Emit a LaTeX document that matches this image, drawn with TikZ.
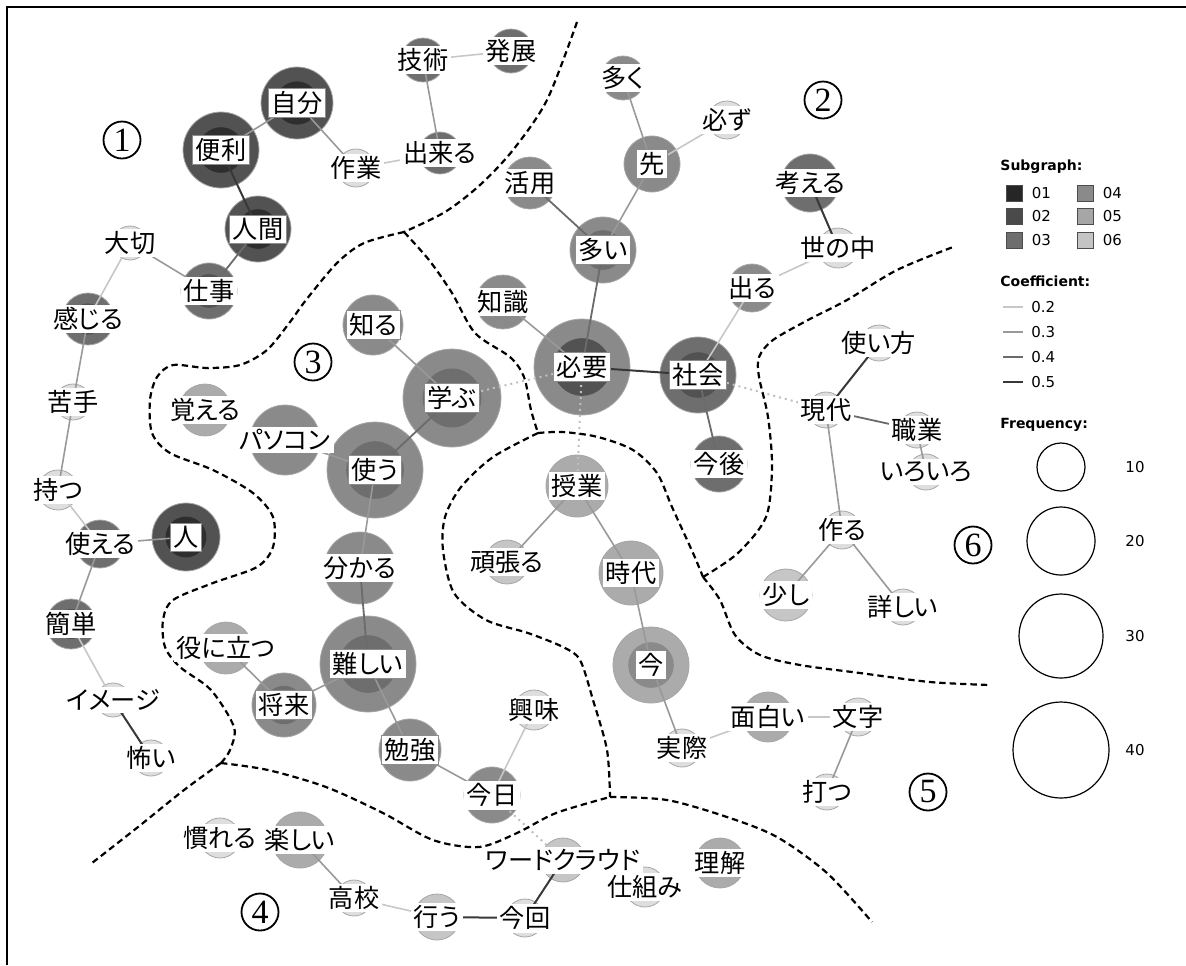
\documentclass[tikz,border=0pt]{standalone}
\usepackage{fontspec}
\setmainfont{Liberation Serif}
\newfontfamily\jp[RawFeature=+palt]{Noto Sans CJK JP}
\newfontfamily\lgd{DejaVu Sans}
\usepackage{tikz}
\usetikzlibrary{positioning}
\definecolor{c1}{HTML}{2E2E2E}
\definecolor{c2}{HTML}{525252}
\definecolor{c3}{HTML}{6E6E6E}
\definecolor{c4}{HTML}{8A8A8A}
\definecolor{c5}{HTML}{ABABAB}
\definecolor{c6}{HTML}{C6C6C6}
\definecolor{lt}{HTML}{DEDEDE}
\definecolor{sg1}{HTML}{262626}
\definecolor{sg2}{HTML}{4A4A4A}
\definecolor{sg3}{HTML}{6E6E6E}
\definecolor{sg4}{HTML}{8A8A8A}
\definecolor{sg5}{HTML}{A6A6A6}
\definecolor{sg6}{HTML}{C4C4C4}
\pgfdeclarelayer{bg}
\pgfdeclarelayer{fg}
\pgfsetlayers{bg,main,fg}
\tikzstyle{ring} = [circle, inner sep=0pt, draw=black!35, line width=0.4pt]
\tikzstyle{lbl} = [fill=white, inner xsep=1.6pt, inner ysep=1.4pt, font=\jp\fontsize{12.6}{12.6}\selectfont]
\tikzstyle{lblb} = [lbl, draw=black!45, line width=0.4pt]
\tikzstyle{e2} = [draw=black!22, line width=0.8pt]
\tikzstyle{e3} = [draw=black!40, line width=0.8pt]
\tikzstyle{e4} = [draw=black!58, line width=0.9pt]
\tikzstyle{e5} = [draw=black!78, line width=1pt]
\tikzstyle{edot} = [draw=black!25, dotted, line width=1pt]
\tikzstyle{bound} = [black, line width=1.1pt, dash pattern=on 3.2pt off 2pt]
\tikzstyle{grp} = [circle, draw, line width=0.9pt, inner sep=0pt, minimum size=18.5pt, font=\fontsize{17}{17}\selectfont]
\tikzstyle{lhead} = [anchor=west, inner sep=0pt, font=\lgd\bfseries\fontsize{7}{7}\selectfont]
\tikzstyle{ltxt} = [anchor=west, inner sep=0pt, font=\lgd\fontsize{7.5}{7.5}\selectfont]
\tikzstyle{sqr} = [rectangle, draw=black!70, line width=0.4pt, minimum size=8pt, inner sep=0pt]
\tikzstyle{freq} = [circle, draw, line width=0.6pt, inner sep=0pt]

\begin{document}
\begin{tikzpicture}[x=0.5pt, y=-0.5pt]
\useasboundingbox (0,0) rectangle (1186,965);
\draw[line width=1pt] (7,965) -- (7,7) -- (1186,7);

% Place nodes
\foreach \id/\x/\y/\r/\oc/\ic/\lb/\t in {
    jibun/297/103/36/c2/c1/lblb/自分, benri/221/150/38/c2/c1/lblb/便利,
    ningen/258/229/33/c2/c1/lblb/人間, shigoto/209/291/28/c3/c2/lbl/仕事,
    taisetsu/130/243/17/lt/lt/lbl/大切, kanjiru/88/319/26/c3/c2/lbl/感じる,
    nigate/73/402/18/lt/lt/lbl/苦手, motsu/58/490/20/lt/lt/lbl/持つ,
    tsukaeru/100/544/24/c3/c3/lbl/使える, hito/186/537/34/c2/c1/lblb/人,
    kantan/71/624/25/c3/c2/lbl/簡単, image/113/700/17/lt/lt/lbl/イメージ,
    kowai/151/758/18/lt/lt/lbl/怖い, sagyo/356/168/19/lt/lt/lbl/作業,
    dekiru/440/153/21/c3/c3/lbl/出来る, gijutsu/423/60/22/c3/c3/lbl/技術,
    hatten/511/51/22/c3/c3/lbl/発展,
    ooku/623/78/22/c4/c4/lbl/多く, kanarazu/727/120/19/lt/lt/lbl/必ず,
    saki/652/164/28/c4/c4/lblb/先, katsuyo/530/183/26/c4/c4/lbl/活用,
    ooi/603/250/33/c4/c3/lblb/多い, chishiki/503/302/27/c4/c4/lbl/知識,
    hitsuyo/582/367/48/c4/c2/lblb/必要, shakai/698/375/38/c3/c2/lblb/社会,
    kongo/719/464/28/c3/c3/lbl/今後, deru/752/288/24/c4/c4/lbl/出る,
    yononaka/838/248/20/lt/lt/lbl/世の中, kangaeru/810/183/29/c3/c3/lbl/考える,
    shiru/373/325/30/c4/c4/lblb/知る, manabu/452/398/49/c4/c3/lblb/学ぶ,
    oboeru/205/410/26/c5/c5/lbl/覚える, pasokon/285/440/35/c4/c4/lbl/パソコン,
    tsukau/375/470/48/c4/c3/lblb/使う, wakaru/360/568/36/c4/c4/lbl/分かる,
    muzukashii/368/664/48/c4/c3/lblb/難しい, yakunitatsu/226/648/26/c5/c5/lbl/役に立つ,
    shorai/284/705/32/c4/c3/lblb/将来, benkyo/410/750/31/c4/c4/lblb/勉強,
    kyo/492/795/28/c4/c4/lbl/今日, kyomi/534/710/20/lt/lt/lbl/興味,
    jugyo/577/486/31/c5/c5/lbl/授業, ganbaru/507/562/22/c6/c6/lbl/頑張る,
    jidai/631/573/32/c5/c5/lbl/時代, ima/651/665/38/c5/c4/lblb/今,
    jissai/682/748/19/lt/lt/lbl/実際, omoshiroi/768/717/25/c5/c5/lbl/面白い,
    moji/858/717/19/lt/lt/lbl/文字, utsu/827/792/18/lt/lt/lbl/打つ,
    tsukaikata/879/343/18/lt/lt/lbl/使い方, gendai/826/410/18/lt/lt/lbl/現代,
    shokugyo/917/430/18/lt/lt/lbl/職業, iroiro/926/472/18/lt/lt/lbl/いろいろ,
    tsukuru/842/530/19/lt/lt/lbl/作る, sukoshi/786/595/26/c6/c6/lbl/少し,
    kuwashii/903/607/18/lt/lt/lbl/詳しい,
    nareru/220/838/20/lt/lt/lbl/慣れる, tanoshii/300/840/28/c5/c5/lbl/楽しい,
    koko/354/898/18/lt/lt/lbl/高校, okonau/437/917/23/c6/c6/lbl/行う,
    konkai/525/918/19/lt/lt/lbl/今回, wordcloud/563/860/22/c6/c6/lbl/ワードクラウド,
    shikumi/645/887/20/lt/lt/lbl/仕組み, rikai/720/863/25/c5/c5/lbl/理解} {
  \begin{pgfonlayer}{bg}
    \node (\id) [ring, minimum size=\r pt, fill=\oc] at (\x,\y) {};
    \fill[\ic] (\id.center) circle[radius={0.3*\r*1pt}];
  \end{pgfonlayer}
  \begin{pgfonlayer}{fg}
    \node (\id-t) [\lb] at (\x,\y) {\t};
  \end{pgfonlayer}
}

% Draw edges
\foreach \a/\b in {sagyo/dekiru, gijutsu/hatten, taisetsu/kanjiru, motsu/tsukaeru, kantan/image,
    saki/kanarazu, shakai/deru, deru/yononaka, kyo/kyomi, jissai/omoshiroi, omoshiroi/moji, koko/okonau}
  \draw[e2] (\a.center) -- (\b.center);
\foreach \a/\b in {jibun/benri, jibun/sagyo, dekiru/gijutsu, shigoto/taisetsu, kanjiru/nigate,
    nigate/motsu, tsukaeru/hito, tsukaeru/kantan, ooku/saki, saki/ooi, chishiki/hitsuyo,
    shiru/manabu, pasokon/tsukau, tsukau/wakaru, muzukashii/shorai, shorai/yakunitatsu,
    muzukashii/benkyo, benkyo/kyo, jugyo/ganbaru, jugyo/jidai, jidai/ima, ima/jissai,
    gendai/tsukuru, tsukuru/sukoshi, tsukuru/kuwashii, moji/utsu, tanoshii/koko, shokugyo/iroiro}
  \draw[e3] (\a.center) -- (\b.center);
\foreach \a/\b in {ningen/shigoto, katsuyo/ooi, ooi/hitsuyo, shakai/kongo, manabu/tsukau,
    wakaru/muzukashii, gendai/shokugyo}
  \draw[e4] (\a.center) -- (\b.center);
\foreach \a/\b in {benri/ningen, hitsuyo/shakai, yononaka/kangaeru, image/kowai,
    tsukaikata/gendai, okonau/konkai, konkai/wordcloud}
  \draw[e5] (\a.center) -- (\b.center);
\foreach \a/\b in {manabu/hitsuyo, hitsuyo/jugyo, shakai/gendai, kyo/wordcloud}
  \draw[edot] (\a.center) -- (\b.center);

% Subgraph borders
\draw[bound] plot[smooth] coordinates {(577,22) (547,100) (513,150) (480,185) (445,212) (404,232)};
\draw[bound] plot[smooth] coordinates {(404,232) (364,243) (337,263) (306,300) (290,322) (267,350)
    (240,365) (207,368) (173,365) (157,377) (150,400) (152,433) (170,453) (213,470) (253,493)
    (273,517) (273,547) (257,567) (213,583) (173,600) (163,620) (165,647) (180,667) (211,690)
    (234,727) (230,750) (221,763)};
\draw[bound] plot[smooth] coordinates {(221,763) (184,790) (138,827) (92,863)};
\draw[bound] plot[smooth] coordinates {(221,763) (268,770) (326,787) (383,813) (433,840)
    (479,847) (517,833) (556,813) (610,797)};
\draw[bound] plot[smooth] coordinates {(610,797) (667,800) (727,817) (777,837) (827,873) (872,922)};
\draw[bound] plot[smooth] coordinates {(404,232) (429,260) (452,293) (475,333) (510,357)
    (524,377) (531,410) (538,433)};
\draw[bound] plot[smooth] coordinates {(538,433) (493,457) (461,487) (445,517) (443,550)
    (454,593) (486,620) (528,633) (563,647) (580,660) (593,700) (607,750) (610,797)};
\draw[bound] plot[smooth] coordinates {(538,433) (563,432) (598,437) (633,450) (657,473)
    (672,507) (693,553) (703,577)};
\draw[bound] plot[smooth] coordinates {(703,577) (738,553) (766,517) (772,467) (768,417)
    (759,377) (759,357) (773,340) (808,320) (847,300) (897,270) (953,247)};
\draw[bound] plot[smooth] coordinates {(703,577) (720,600) (735,635) (760,655) (800,665)
    (860,673) (930,682) (990,685)};

% Subgraph numbers
\node (g1) [grp] at (122,140) {1};
\node (g2) [grp] at (823,100) {2};
\node (g3) [grp] at (313,362) {3};
\node (g4) [grp] at (260,912) {4};
\node (g5) [grp] at (928,792) {5};
\node (g6) [grp] at (973,545) {6};

% Legend
\node (subg) [lhead] at (1000,167) {Subgraph:};
\foreach \n/\y in {1/193, 2/216, 3/240} {
  \node (sq\n) [sqr, fill=sg\n] at (1014,\y) {};
  \node [ltxt, right=4.5pt of sq\n] {0\n};
}
\foreach \n/\y in {4/193, 5/216, 6/240} {
  \node (sq\n) [sqr, fill=sg\n] at (1085,\y) {};
  \node [ltxt, right=4.5pt of sq\n] {0\n};
}
\node (coef) [lhead] at (1000,281) {Coefficient:};
\foreach \s/\v/\y in {e2/0.2/307, e3/0.3/332, e4/0.4/357, e5/0.5/382} {
  \draw[\s] (1003,\y) -- (1023,\y);
  \node [ltxt] at (1031,\y) {\v};
}
\node (freqh) [lhead] at (1000,425) {Frequency:};
\foreach \v/\y/\d in {10/467/24, 20/541/34, 30/636/42, 40/750/48} {
  \node (f\v) [freq, minimum size=\d pt] at (1061,\y) {};
  \node [ltxt, anchor=center] at (1135,\y) {\v};
}
\end{tikzpicture}
\end{document}
